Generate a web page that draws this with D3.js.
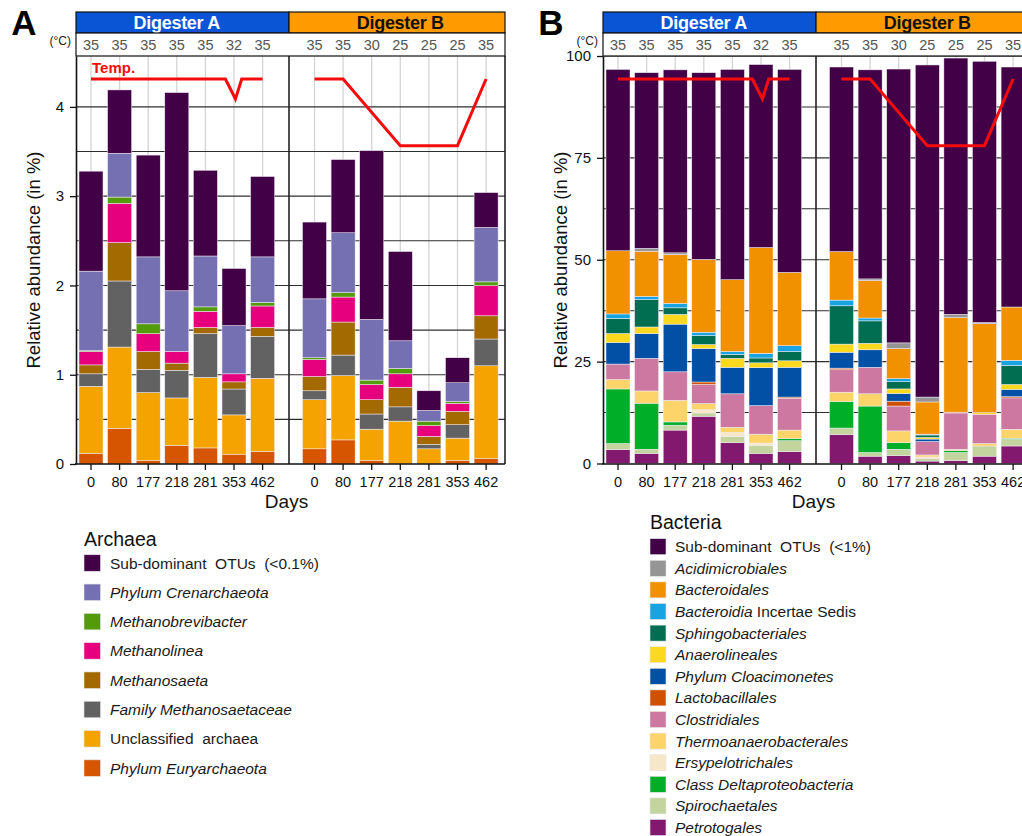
<!DOCTYPE html>
<html><head><meta charset="utf-8">
<script src="https://cdn.jsdelivr.net/npm/d3@7"></script>
<style>body{margin:0;background:#fff}svg{display:block;font-family:"Liberation Sans",Arial,Helvetica,sans-serif}</style>
</head><body><svg id="c" width="1022" height="836"></svg>
<script>
// ---------------- data ----------------
const days = ["0","80","177","218","281","353","462"];
const digesters = ["Digester A","Digester B"];
const tempsA = [35,35,35,35,35,32,35];
const tempsB = [35,35,30,25,25,25,35];
// temperature line vertices: [sample index, °C]
const tempLineA = [[0,35],[4.7,35],[5.05,32],[5.27,35],[6,35]];
const tempLineB = [[0,35],[1,35],[3,25],[5,25],[6,35]];
const yTicksA = [0,1,2,3,4];
const yTicksB = [0,25,50,75,100];

// Archaea (% ; first 7 = Digester A, last 7 = Digester B), legend order
const arcSub     = [1.12,0.71,1.14,2.22,0.96,0.64,0.90, 0.86,0.82,1.89,1.00,0.22,0.28,0.39];
const arcCren    = [0.89,0.49,0.75,0.68,0.57,0.54,0.51, 0.66,0.67,0.68,0.31,0.12,0.21,0.61];
const arcMbrev   = [0.01,0.07,0.11,0.00,0.05,0.00,0.04, 0.02,0.05,0.05,0.06,0.05,0.02,0.04];
const arcMlinea  = [0.15,0.44,0.20,0.13,0.18,0.09,0.24, 0.19,0.28,0.17,0.15,0.12,0.09,0.34];
const arcMsaeta  = [0.10,0.43,0.20,0.08,0.07,0.08,0.10, 0.16,0.37,0.16,0.22,0.09,0.15,0.26];
const arcFam     = [0.14,0.74,0.26,0.31,0.49,0.29,0.47, 0.10,0.23,0.17,0.16,0.05,0.15,0.30];
const arcUncl    = [0.75,0.91,0.76,0.53,0.79,0.44,0.82, 0.55,0.72,0.35,0.48,0.17,0.25,1.04];
const arcEury    = [0.12,0.40,0.04,0.21,0.18,0.11,0.14, 0.17,0.27,0.04,0.00,0.00,0.04,0.06];

// Bacteria (%)
const bacSub     = [44.5,43.1,44.9,45.8,51.6,44.9,49.8, 45.3,51.3,67.2,81.5,62.9,64.1,58.9];
const bacAcidi   = [0,0.7,0.4,0,0,0,0,                 0,0.4,1.4,1.2,0.8,0.3,0];
const bacBact    = [15.5,11.1,12.0,17.9,17.6,26.0,18.0, 11.9,9.2,7.4,7.9,23.2,21.8,13.1];
const bacBIS     = [1.1,0.8,1.1,0.8,0.7,1.1,1.4,       1.4,0.7,0.7,0.2,0,0,1.2];
const bacSphingo = [3.7,6.7,1.6,2.2,1.0,1.2,2.3,       9.4,5.5,1.8,0.6,0,0,4.7];
const bacAnaer   = [2.2,1.6,2.4,1.0,2.2,1.2,1.6,       2.0,1.6,1.1,0.4,0,0.4,1.2];
const bacCloac   = [5.3,6.1,11.7,8.2,6.5,9.3,7.3,      3.9,4.3,1.9,0.6,0,0,1.8];
const bacLacto   = [0,0,0,0.6,0,0,0.3,                 0.4,0,1.2,0,0.2,0,0.3];
const bacClost   = [3.8,8.0,7.0,4.7,8.2,7.0,7.8,       5.5,6.5,6.1,3.3,8.9,7.2,7.7];
const bacThermo  = [2.3,3.0,5.3,1.5,1.3,2.2,2.1,       2.3,3.0,2.9,0.5,0.3,0.6,2.2];
const bacErsy    = [0,0,0,0.8,1.0,0.6,0,               0,0,0,0.3,0,0,0];
const bacDelta   = [13.4,11.3,0.8,0,0,0,0.5,           6.5,11.4,1.6,0,0.5,0,0.3];
const bacSpiro   = [1.5,1.0,1.2,0.8,1.5,1.9,2.7,       1.6,0.9,1.6,0.7,2.0,2.5,1.6];
const bacPetro   = [3.4,2.5,8.2,11.6,5.1,2.5,2.9,      7.1,1.8,1.9,0.6,0.7,1.8,4.3];

const archaea = [
  {key:"sub",  label:[["Sub-dominant  OTUs  (<0.1%)",0]], color:"#420046", values:arcSub},
  {key:"cren", label:[["Phylum Crenarchaeota",1]], color:"#7570b1", values:arcCren},
  {key:"mbre", label:[["Methanobrevibacter",1]], color:"#549b0c", values:arcMbrev},
  {key:"mlin", label:[["Methanolinea",1]], color:"#e6007e", values:arcMlinea},
  {key:"msae", label:[["Methanosaeta",1]], color:"#a26a00", values:arcMsaeta},
  {key:"fam",  label:[["Family Methanosaetaceae",1]], color:"#626262", values:arcFam},
  {key:"uncl", label:[["Unclassified  archaea",0]], color:"#f4a300", values:arcUncl},
  {key:"eury", label:[["Phylum Euryarchaeota",1]], color:"#d55500", values:arcEury}
];
const bacteria = [
  {key:"sub",   label:[["Sub-dominant  OTUs  (<1%)",0]], color:"#420046", values:bacSub},
  {key:"acid",  label:[["Acidimicrobiales",1]], color:"#959595", values:bacAcidi},
  {key:"bact",  label:[["Bacteroidales",1]], color:"#f29100", values:bacBact},
  {key:"bis",   label:[["Bacteroidia",1],[" Incertae Sedis",0]], color:"#18a3e2", values:bacBIS},
  {key:"sph",   label:[["Sphingobacteriales",1]], color:"#016e52", values:bacSphingo},
  {key:"ana",   label:[["Anaerolineales",1]], color:"#fcd91e", values:bacAnaer},
  {key:"clo",   label:[["Phylum Cloacimonetes",1]], color:"#0150a5", values:bacCloac},
  {key:"lac",   label:[["Lactobacillales",1]], color:"#d05000", values:bacLacto},
  {key:"cls",   label:[["Clostridiales",1]], color:"#cd78a0", values:bacClost},
  {key:"the",   label:[["Thermoanaerobacterales",1]], color:"#fdd46a", values:bacThermo},
  {key:"ers",   label:[["Ersypelotrichales",1]], color:"#f7e7c9", values:bacErsy},
  {key:"del",   label:[["Class Deltaproteobacteria",1]], color:"#00ae28", values:bacDelta},
  {key:"spi",   label:[["Spirochaetales",1]], color:"#c3d49f", values:bacSpiro},
  {key:"pet",   label:[["Petrotogales",1]], color:"#83196f", values:bacPetro}
];

// ---------------- drawing ----------------
const svg = d3.select("#c");
const HT = 12, HB = 33, TB = 56, BOT = 464, W = 429, SPLIT = 213;
const headFill = ["#0a55d6","#ff9a00"], headText = ["#ffffff","#111111"];
const temps = [tempsA, tempsB], tlines = [tempLineA, tempLineB];
const tY = d3.scaleLinear().domain([25,35]).range([145.7,79]);

function drawPanel(o) {
  const g = svg.append("g");
  const x0 = o.x0, y = o.y, MID = x0 + SPLIT;
  const bx = [
    d3.scaleBand().domain(days).range([x0+0.7, x0+200.9]).paddingInner(0.16).paddingOuter(0.08),
    d3.scaleBand().domain(days).range([x0+224.2, x0+424.4]).paddingInner(0.16).paddingOuter(0.08)
  ];
  const bw = bx[0].bandwidth();
  const cx = (s,d) => s(d) + bw/2;

  // light vertical gridlines
  bx.forEach(s => g.append("g").selectAll("line").data(days).join("line")
    .attr("x1", d=>cx(s,d)).attr("x2", d=>cx(s,d)).attr("y1", TB).attr("y2", BOT)
    .attr("stroke", "#d4d4d4").attr("stroke-width", 1.3));
  // horizontal gridlines
  g.append("g").selectAll("line").data(o.grid).join("line")
    .attr("x1", x0).attr("x2", x0+W).attr("y1", d=>y(d)).attr("y2", d=>y(d))
    .attr("stroke", "#2e2e2e").attr("stroke-width", 1.1);

  // stacked bars
  const stackKeys = o.series.map(s=>s.key).reverse();
  const col = d3.scaleOrdinal().domain(o.series.map(s=>s.key)).range(o.series.map(s=>s.color));
  const stack = d3.stack().keys(stackKeys);
  [0,1].forEach(gi => {
    const rows = days.map((d,i) => {
      const r = {day:d};
      o.series.forEach(s => r[s.key] = s.values[gi*7+i]);
      return r;
    });
    g.append("g").selectAll("g").data(stack(rows)).join("g")
      .attr("fill", s=>col(s.key))
      .selectAll("rect").data(s=>s).join("rect")
      .attr("x", d=>bx[gi](d.data.day)).attr("width", bw)
      .attr("y", d=>y(d[1])).attr("height", d=>Math.max(0, y(d[0])-y(d[1])))
      .attr("stroke", "#f2eef6").attr("stroke-width", 0.5);
  });

  // frame + divider
  g.append("line").attr("x1", MID).attr("x2", MID).attr("y1", TB).attr("y2", BOT)
    .attr("stroke", "#222").attr("stroke-width", 1.6);
  g.append("line").attr("x1", x0+W).attr("x2", x0+W).attr("y1", TB).attr("y2", BOT)
    .attr("stroke", "#222").attr("stroke-width", 1.6);

  // header bars
  [0,1].forEach(gi => {
    const a = gi ? MID : x0, b = gi ? x0+W : MID;
    g.append("rect").attr("x", a).attr("y", HT).attr("width", b-a).attr("height", HB-HT)
      .attr("fill", headFill[gi]).attr("stroke", "#111").attr("stroke-width", 1.2);
    const r = bx[gi].range();
    g.append("text").attr("x", (r[0]+r[1])/2).attr("y", HB-4.5).attr("text-anchor", "middle")
      .attr("font-size", 18).attr("font-weight", "bold").attr("fill", headText[gi])
      .attr("letter-spacing", -0.3).text(digesters[gi]);
  });
  g.append("rect").attr("x", x0).attr("y", HB).attr("width", W).attr("height", TB-HB)
    .attr("fill", "#fff").attr("stroke", "#111").attr("stroke-width", 1.2);
  [0,1].forEach(gi => {
    g.append("g").selectAll("text").data(days).join("text")
      .attr("x", (d)=>cx(bx[gi],d)).attr("y", 50).attr("text-anchor", "middle")
      .attr("font-size", 14.5).attr("fill", "#555").text((d,i)=>temps[gi][i]);
  });
  g.append("text").attr("x", x0-5).attr("y", 45).attr("text-anchor", "end")
    .attr("font-size", 12).attr("fill", "#222").text("(°C)");

  // temperature line
  [0,1].forEach(gi => {
    const xi = d3.scaleLinear().domain([0,6]).range([cx(bx[gi],days[0]), cx(bx[gi],days[6])]);
    g.append("path").datum(tlines[gi])
      .attr("d", d3.line().x(d=>xi(d[0])).y(d=>tY(d[1])))
      .attr("fill", "none").attr("stroke", "#f40c0c").attr("stroke-width", 3);
  });
  if (o.tempLabel) {
    g.append("text").attr("x", cx(bx[0],days[0])+1).attr("y", 73).attr("font-size", 15)
      .attr("font-weight", "bold").attr("fill", "#f40c0c").text("Temp.");
  }

  // axes
  const ya = g.append("g").attr("transform", `translate(${x0},0)`)
    .call(d3.axisLeft(y).tickValues(o.yTicks).tickFormat(d3.format("~g"))
      .tickSize(6).tickPadding(6).tickSizeOuter(0));
  ya.select(".domain").attr("stroke", "#111").attr("stroke-width", 1.6);
  ya.selectAll(".tick line").attr("stroke", "#111").attr("stroke-width", 1.3);
  ya.selectAll("text").attr("font-size", 15).attr("fill", "#111").attr("font-family", null);
  [0,1].forEach(gi => {
    const xa = g.append("g").attr("transform", `translate(0,${BOT})`)
      .call(d3.axisBottom(bx[gi]).tickSize(6).tickPadding(6.5));
    xa.select(".domain").remove();
    xa.selectAll(".tick line").attr("stroke", "#111").attr("stroke-width", 1.3);
    xa.selectAll("text").attr("font-size", 14.5).attr("fill", "#111").attr("font-family", null);
  });
  g.append("line").attr("x1", x0-1).attr("x2", x0+W).attr("y1", BOT).attr("y2", BOT)
    .attr("stroke", "#111").attr("stroke-width", 1.6);

  // titles
  g.append("text").attr("x", x0+210.5).attr("y", 508).attr("text-anchor", "middle")
    .attr("font-size", 19).attr("fill", "#111").text("Days");
  g.append("text").attr("transform", `translate(${x0-36},260) rotate(-90)`)
    .attr("text-anchor", "middle").attr("font-size", 18.5).attr("fill", "#111")
    .text("Relative abundance (in %)");
  g.append("text").attr("x", o.letterX).attr("y", 35).attr("text-anchor", "middle")
    .attr("font-size", 35).attr("font-weight", "bold").attr("fill", "#000").text(o.letter);

  // legend
  const L = o.legend;
  g.append("text").attr("x", L.x).attr("y", L.titleY).attr("font-size", 19.5).attr("fill", "#111").text(L.title);
  const items = g.append("g").selectAll("g").data(o.series).join("g")
    .attr("transform", (d,i)=>`translate(${L.x},${L.first + i*L.step})`);
  items.append("rect").attr("x", 0).attr("y", -L.sq/2).attr("width", L.sq).attr("height", L.sq)
    .attr("fill", d=>d.color).attr("stroke", "#e4e4e4").attr("stroke-width", 0.6);
  const tx = items.append("text").attr("x", L.tx).attr("y", 5.5).attr("font-size", 15.5).attr("fill", "#1a1a1a");
  tx.selectAll("tspan").data(d=>d.label).join("tspan")
    .attr("font-style", d=>d[1] ? "italic" : "normal").style("white-space", "pre").text(d=>d[0]);
}

drawPanel({
  x0: 76, y: d3.scaleLinear().domain([0,4.57]).range([464,56]),
  yTicks: yTicksA, grid: d3.range(1,9).map(k=>k*0.5),
  series: archaea, tempLabel: true, letter: "A", letterX: 24,
  legend: {title:"Archaea", x:84, titleY:546, first:563, step:29.3, sq:16.5, tx:26}
});
drawPanel({
  x0: 603, y: d3.scaleLinear().domain([0,100]).range([463.5,56]),
  yTicks: yTicksB, grid: d3.range(1,9).map(k=>k*12.5),
  series: bacteria, tempLabel: false, letter: "B", letterX: 551,
  legend: {title:"Bacteria", x:650, titleY:528.5, first:546.7, step:21.6, sq:16, tx:25}
});
</script></body></html>
